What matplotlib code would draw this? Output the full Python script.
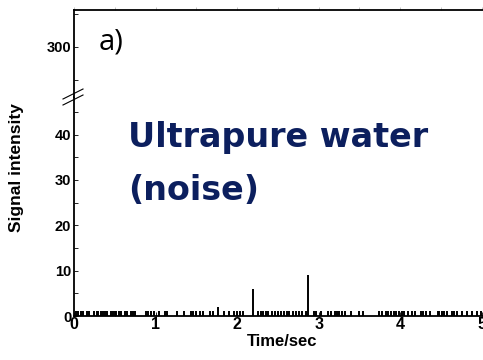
import matplotlib
matplotlib.use("Agg")
import matplotlib.pyplot as plt

# noise events (time in s) with intensity ~1
noise_t = [0.02, 0.05, 0.09, 0.11, 0.16, 0.18, 0.25, 0.28, 0.30, 0.33, 0.35,
           0.38, 0.40, 0.45, 0.48, 0.50, 0.52, 0.55, 0.58, 0.62, 0.65, 0.70,
           0.72, 0.75, 0.88, 0.91, 0.95, 0.98, 1.04, 1.12, 1.14, 1.26, 1.35,
           1.43, 1.46, 1.50, 1.54, 1.58, 1.67, 1.71, 1.84, 1.90, 1.96, 2.00,
           2.03, 2.07, 2.26, 2.29, 2.32, 2.35, 2.38, 2.43, 2.47, 2.50, 2.54,
           2.58, 2.61, 2.64, 2.68, 2.72, 2.76, 2.80, 2.84, 2.94, 2.97, 3.03,
           3.12, 3.15, 3.20, 3.23, 3.25, 3.28, 3.32, 3.40, 3.50, 3.54, 3.74,
           3.77, 3.82, 3.85, 3.89, 3.92, 3.95, 3.99, 4.02, 4.05, 4.09, 4.14,
           4.18, 4.25, 4.28, 4.32, 4.36, 4.46, 4.48, 4.51, 4.54, 4.57, 4.63,
           4.66, 4.70, 4.76, 4.82, 4.88, 4.94, 4.99]
noise_y = [1.0] * len(noise_t)

# larger events
peak_t = [1.76, 2.20, 2.87]
peak_y = [2.0, 6.0, 9.0]

navy = "#0c1f5e"
plt.rcParams['font.family'] = ['Liberation Sans', 'DejaVu Sans']

fig = plt.figure(figsize=(4.83, 3.6), dpi=100)
ax = fig.add_axes([74 / 483, 44 / 360, 416 / 483, 219 / 360])
ax_top = fig.add_axes([74 / 483, 263 / 360, 416 / 483, 87 / 360], sharex=ax)

ax.vlines(noise_t, 0, noise_y, color="black", lw=1.4)
ax.vlines(peak_t, 0, peak_y, color="black", lw=1.4)

ax.set_xlim(0, 5.1)
ax.set_ylim(0, 48.3)
ax_top.set_ylim(288.5, 308.5)

ax.spines['top'].set_visible(False)
ax_top.spines['bottom'].set_visible(False)
ax.spines['right'].set_visible(False)
ax_top.spines['right'].set_visible(False)
for a in (ax, ax_top):
    for s in a.spines.values():
        s.set_linewidth(1.3)

ax.set_xticks([0, 1, 2, 3, 4, 5])
ax.set_yticks([0, 10, 20, 30, 40])
ax.set_yticks([5, 15, 25, 35, 45], minor=True)
ax.tick_params(axis='both', which='both', direction='in', labelsize=10.5,
               pad=2, length=3, width=0.6)
ax.tick_params(axis='x', labelsize=11.5, pad=1)
for lab in ax.get_xticklabels() + ax.get_yticklabels():
    lab.set_fontweight('bold')

ax_top.set_yticks([300])
ax_top.set_yticks([292.5, 307.5], minor=True)
ax_top.tick_params(axis='y', which='both', direction='in', labelsize=10.5,
                   pad=2, length=3, width=0.6)
ax_top.tick_params(axis='x', which='both', bottom=False, labelbottom=False,
                   top=True, direction='out', length=2, width=0.5,
                   color='#aaaaaa')
ax_top.set_xticks([0.5 * i for i in range(11)], minor=True)
for lab in ax_top.get_yticklabels():
    lab.set_fontweight('bold')

ax.set_xlabel("Time/sec", fontsize=12, fontweight='bold', labelpad=1)
ax.set_ylabel("Signal intensity", fontsize=12.5, fontweight='bold')
ax.yaxis.set_label_coords(-0.12, 0.68)

# break marks on left axis
bx = 74 / 483
for dy in (-3, 3):
    fig.add_artist(plt.Line2D([bx - 11 / 483, bx + 9 / 483],
                              [(263 + dy - 5) / 360, (263 + dy + 5) / 360],
                              color='black', lw=0.8))

ax_top.text(0.058, 0.63, "a)", transform=ax_top.transAxes, fontsize=21,
            family=['Open Sans', 'DejaVu Sans'], va='center')
ax.text(0.13, 0.817, "Ultrapure water", transform=ax.transAxes,
        fontsize=24, fontweight='bold', color=navy,
        family=['DejaVu Sans'], va='center')
ax.text(0.13, 0.575, "(noise)", transform=ax.transAxes,
        fontsize=24, fontweight='bold', color=navy,
        family=['DejaVu Sans'], va='center')

fig.savefig("out.png", dpi=100)
